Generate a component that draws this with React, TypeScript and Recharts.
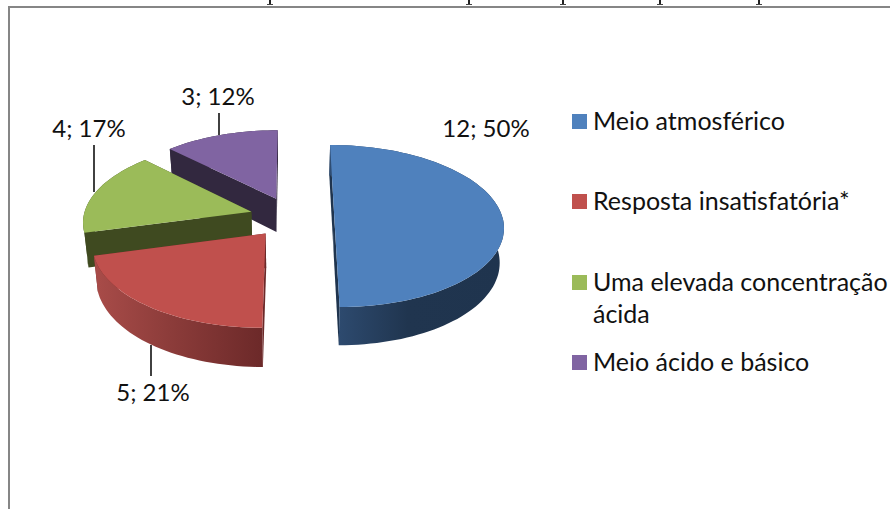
import { PieChart, Pie } from 'recharts'

const categories = ['Meio atmosférico', 'Resposta insatisfatória*', 'Uma elevada concentração ácida', 'Meio ácido e básico']
const counts = [12, 5, 4, 3]
const percents = [50, 21, 17, 12]

// bits of a text line cut off above the chart, only the letter tails are left
const clippedTails = [270, 469, 563, 660, 759]

// drawn back to front so the slices overlap like the original
const pieData = categories
  .map((name, i) => ({ name, value: counts[i], percent: percents[i] }))
  .reverse()

const topColors: Record<string, string> = {
  [categories[0]]: '#4f81bd',
  [categories[1]]: '#c0504d',
  [categories[2]]: '#9bbb59',
  [categories[3]]: '#8064a2',
}
const faceColors: Record<string, string> = {
  [categories[0]]: '#1f344e',
  [categories[1]]: '#6c2929',
  [categories[2]]: '#3f4a20',
  [categories[3]]: '#32283f',
}
const wallStops: Record<string, string[]> = {
  [categories[0]]: ['#2f4d73', '#20354f', '#1f344e'],
  [categories[1]]: ['#a94c49', '#8c3c3a', '#6c2929'],
  [categories[2]]: ['#3f4a20', '#3f4a20', '#3f4a20'],
  [categories[3]]: ['#32283f', '#32283f', '#32283f'],
}

const labelSpots: Record<string, any> = {
  [categories[0]]: { x: 486, y: 137 },
  [categories[1]]: { x: 153, y: 401, line: [151, 345, 151, 376] },
  [categories[2]]: { x: 89, y: 137, line: [94, 145, 94, 192] },
  [categories[3]]: { x: 218, y: 105, line: [219, 113, 219, 135] },
}

const legendRows = [
  { index: 0, top: 104, lines: ['Meio atmosférico'] },
  { index: 1, top: 184, lines: ['Resposta insatisfatória*'] },
  { index: 2, top: 265, lines: ['Uma elevada concentração', 'ácida'] },
  { index: 3, top: 345, lines: ['Meio ácido e básico'] },
]

const font = 'Lato, sans-serif'
const RX = 1.68
const RY = 0.8
const PERSP = 0.111
const EXPLODE = 0.252
const DEPTH = 34

function Slice3D(props: any) {
  const { cx, cy, outerRadius, startAngle, endAngle, payload } = props
  const name = payload.name
  const rad = Math.PI / 180
  const mid = ((startAngle + endAngle) / 2) * rad
  const ox = Math.cos(mid) * EXPLODE
  const oy = -Math.sin(mid) * EXPLODE

  const top = (u: number, v: number) => {
    const U = ox + u
    const V = oy + v
    const s = 1 / (1 - PERSP * V)
    return { x: cx + RX * outerRadius * U * s, y: cy + RY * outerRadius * V * s, s }
  }
  const low = (p: any) => ({ x: cx + (p.x - cx) * 0.98, y: p.y + DEPTH * p.s })
  const str = (pts: any[]) => pts.map((p) => `${p.x.toFixed(1)},${p.y.toFixed(1)}`).join(' ')

  const arc: any[] = []
  const steps = Math.ceil(Math.abs(endAngle - startAngle) / 2)
  for (let i = 0; i <= steps; i++) {
    const a = (startAngle + ((endAngle - startAngle) * i) / steps) * rad
    arc.push(top(Math.cos(a), -Math.sin(a)))
  }
  const hub = top(0, 0)
  const first = arc[0]
  const last = arc[arc.length - 1]
  const gradId = `wall-${Math.round(startAngle)}`
  const stops = wallStops[name]

  return (
    <g>
      <defs>
        <linearGradient id={gradId} x1="0" y1="0" x2="1" y2="0">
          <stop offset="0" stopColor={stops[0]} />
          <stop offset="0.45" stopColor={stops[1]} />
          <stop offset="1" stopColor={stops[2]} />
        </linearGradient>
      </defs>
      <polygon points={str([hub, first, low(first), low(hub)])} fill={faceColors[name]} />
      <polygon points={str([hub, last, low(last), low(hub)])} fill={faceColors[name]} />
      <polygon points={str([...arc, ...arc.map(low).reverse()])} fill={`url(#${gradId})`} />
      <polygon points={str([hub, ...arc])} fill={topColors[name]} />
    </g>
  )
}

function renderLabel(props: any) {
  const { name, value, percent } = props.payload
  const spot = labelSpots[name]
  return (
    <g>
      {spot.line && (
        <line x1={spot.line[0]} y1={spot.line[1]} x2={spot.line[2]} y2={spot.line[3]} stroke="#111" strokeWidth={1.6} />
      )}
      <text x={spot.x} y={spot.y} textAnchor="middle" fontFamily={font} fontSize={24} fill="#111">
        {`${value}; ${percent}%`}
      </text>
    </g>
  )
}

export default function App() {
  return (
    <div style={{ position: 'fixed', left: 0, top: 0, width: 890, height: 509, overflow: 'hidden', background: '#fff' }}>
      {clippedTails.map((x) => (
        <div key={x}>
          <div style={{ position: 'absolute', left: x - 1, top: 0, width: 2, height: 5, background: '#222' }} />
          <div style={{ position: 'absolute', left: x - 3, top: 4, width: 6, height: 1, background: '#444' }} />
        </div>
      ))}
      <div style={{ position: 'absolute', left: 8, top: 6, width: 900, height: 520, borderLeft: '2px solid #868686', borderTop: '2px solid #868686' }} />
      <div style={{ position: 'absolute', left: 0, top: 0 }}>
        <PieChart width={890} height={509} margin={{ top: 0, right: 0, bottom: 0, left: 0 }}>
          <Pie
            data={pieData}
            dataKey="value"
            nameKey="name"
            cx={292}
            cy={217}
            outerRadius={100}
            startAngle={90}
            endAngle={450}
            stroke="none"
            shape={Slice3D}
            label={renderLabel}
            labelLine={false}
            isAnimationActive={false}
          />
        </PieChart>
      </div>
      {legendRows.map((row) => (
        <div key={row.index} style={{ position: 'absolute', left: 572, top: row.top, fontFamily: font, fontSize: 25, lineHeight: '32px', color: '#111', whiteSpace: 'nowrap' }}>
          <span style={{ position: 'absolute', left: 0, top: 10, width: 15, height: 15, background: topColors[categories[row.index]] }} />
          {row.lines.map((t) => (
            <div key={t} style={{ marginLeft: 21 }}>{t}</div>
          ))}
        </div>
      ))}
    </div>
  )
}
